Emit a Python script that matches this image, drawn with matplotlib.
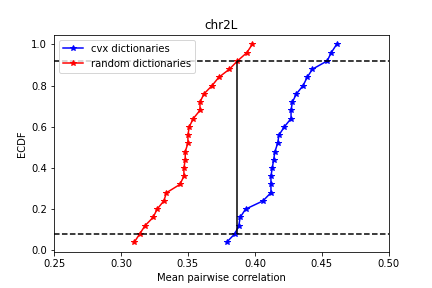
import matplotlib
matplotlib.use("Agg")
import matplotlib.pyplot as plt

# ECDF levels (25 samples per group)
ecdf = [0.04, 0.08, 0.12, 0.16, 0.20, 0.24, 0.28, 0.32, 0.36, 0.40, 0.44, 0.48, 0.52,
        0.56, 0.60, 0.64, 0.68, 0.72, 0.76, 0.80, 0.84, 0.88, 0.92, 0.96, 1.00]

cvx_corr = [0.379, 0.385, 0.388, 0.389, 0.393, 0.406, 0.412, 0.412, 0.412, 0.413,
            0.414, 0.415, 0.417, 0.418, 0.422, 0.427, 0.427, 0.428, 0.431, 0.436,
            0.439, 0.443, 0.454, 0.457, 0.461]

random_corr = [0.310, 0.314, 0.318, 0.324, 0.327, 0.332, 0.334, 0.344, 0.347, 0.347,
               0.348, 0.348, 0.350, 0.350, 0.351, 0.354, 0.359, 0.359, 0.362, 0.368,
               0.373, 0.381, 0.387, 0.394, 0.398]

# KS statistic location
ks_x = 0.3863
ks_low = 0.08
ks_high = 0.92

fig = plt.figure(figsize=(6, 4), dpi=72)
plt.subplots_adjust(bottom=0.125, top=0.88)
plt.plot(cvx_corr, ecdf, 'b-*', label='cvx dictionaries')
plt.plot(random_corr, ecdf, 'r-*', label='random dictionaries')
plt.axhline(ks_low, color='k', linestyle='--')
plt.axhline(ks_high, color='k', linestyle='--')
plt.vlines(ks_x, ks_low, ks_high, color='k')
plt.xlim(0.25, 0.50)
plt.xlabel('Mean pairwise correlation')
plt.ylabel('ECDF')
plt.title('chr2L')
plt.legend(loc='upper left')
plt.savefig('out.png', dpi=72)
